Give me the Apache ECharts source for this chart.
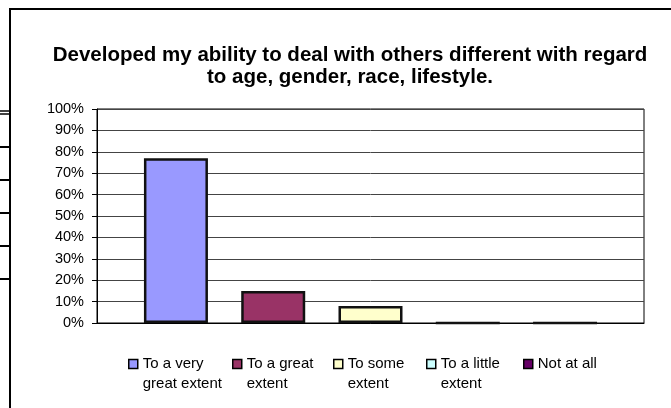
<!DOCTYPE html>
<html>
<head>
<meta charset="utf-8">
<script src="https://cdn.jsdelivr.net/npm/echarts@6/dist/echarts.min.js"></script>
<style>
  html, body { margin: 0; padding: 0; background: #fff; }
  #chart { width: 671px; height: 408px; }
</style>
</head>
<body>
<div id="chart"></div>
<script>
// answer categories (one bar each)
var categories = ['To a very great extent', 'To a great extent', 'To some extent', 'To a little extent', 'Not at all'];
var legendLabels = ['To a very\ngreat extent', 'To a great\nextent', 'To some\nextent', 'To a little\nextent', 'Not at all\n '];
var values = [77, 15, 8, 0, 0];
var colors = ['#9999FF', '#993366', '#FFFFCC', '#CCFFFF', '#660066'];
var legendX = [128, 232, 333, 426, 523];

var yTicks = { min: 0, max: 100, interval: 10 };

var chart = echarts.init(document.getElementById('chart'));

var series = [];
var legends = [];
for (var i = 0; i < categories.length; i++) {
  series.push({
    name: categories[i],
    type: 'bar',
    data: [values[i]],
    barWidth: 64,
    barGap: '52%',
    itemStyle: { color: colors[i], borderColor: '#111', borderWidth: 2.5 },
    emphasis: { disabled: true }
  });
  legends.push({
    data: [categories[i]],
    left: legendX[i],
    top: 334,
    padding: 0,
    itemWidth: 9,
    itemHeight: 9,
    itemGap: 0,
    icon: 'rect',
    selectedMode: false,
    itemStyle: { borderColor: '#000', borderWidth: 1.5 },
    // blank first line keeps the first text line level with the icon
    formatter: (function (idx) { return function () { return ' \n' + legendLabels[idx]; }; })(i),
    textStyle: {
      fontFamily: 'Liberation Sans, Arial',
      fontSize: 15,
      color: '#000',
      lineHeight: 20
    }
  });
}

var option = {
  animation: false,
  title: {
    text: 'Developed my ability to deal with others different with regard\nto age, gender, race, lifestyle.',
    left: 345,
    top: 39,
    textAlign: 'center',
    textStyle: {
      fontFamily: 'Liberation Sans, Arial',
      fontSize: 20.5,
      fontWeight: 'bold',
      color: '#000',
      lineHeight: 22
    }
  },
  legend: legends,
  grid: {
    left: 97,
    right: 27,
    top: 109,
    bottom: 85,
    show: true,
    borderColor: '#000',
    borderWidth: 1
  },
  xAxis: {
    type: 'category',
    data: [''],
    axisLine: { lineStyle: { color: '#000', width: 1 } },
    axisTick: { show: false },
    axisLabel: { show: false }
  },
  yAxis: {
    type: 'value',
    min: yTicks.min,
    max: yTicks.max,
    interval: yTicks.interval,
    axisLine: { show: true, lineStyle: { color: '#000', width: 1 } },
    axisTick: { show: true, length: 5, lineStyle: { color: '#000' } },
    axisLabel: {
      formatter: '{value}%',
      margin: 13,
      fontFamily: 'Liberation Sans, Arial',
      fontSize: 14.5,
      color: '#000'
    },
    splitLine: { lineStyle: { color: '#444', width: 1 } }
  },
  graphic: [
    // outer frame of the embedded chart
    { type: 'polyline', shape: { points: [[10, 408], [10, 9], [671, 9]] }, style: { stroke: '#000', lineWidth: 2, fill: null } },
    // spreadsheet cell borders peeking on the left
    { type: 'line', shape: { x1: 0, y1: 111, x2: 10, y2: 111 }, style: { stroke: '#000', lineWidth: 1.5 } },
    { type: 'line', shape: { x1: 0, y1: 114, x2: 10, y2: 114 }, style: { stroke: '#000', lineWidth: 1.5 } },
    { type: 'line', shape: { x1: 0, y1: 147, x2: 10, y2: 147 }, style: { stroke: '#000', lineWidth: 2 } },
    { type: 'line', shape: { x1: 0, y1: 180, x2: 10, y2: 180 }, style: { stroke: '#000', lineWidth: 2 } },
    { type: 'line', shape: { x1: 0, y1: 213, x2: 10, y2: 213 }, style: { stroke: '#000', lineWidth: 2 } },
    { type: 'line', shape: { x1: 0, y1: 246, x2: 10, y2: 246 }, style: { stroke: '#000', lineWidth: 2 } },
    { type: 'line', shape: { x1: 0, y1: 279, x2: 10, y2: 279 }, style: { stroke: '#000', lineWidth: 2 } }
  ],
  series: series
};

chart.setOption(option);
</script>
</body>
</html>
